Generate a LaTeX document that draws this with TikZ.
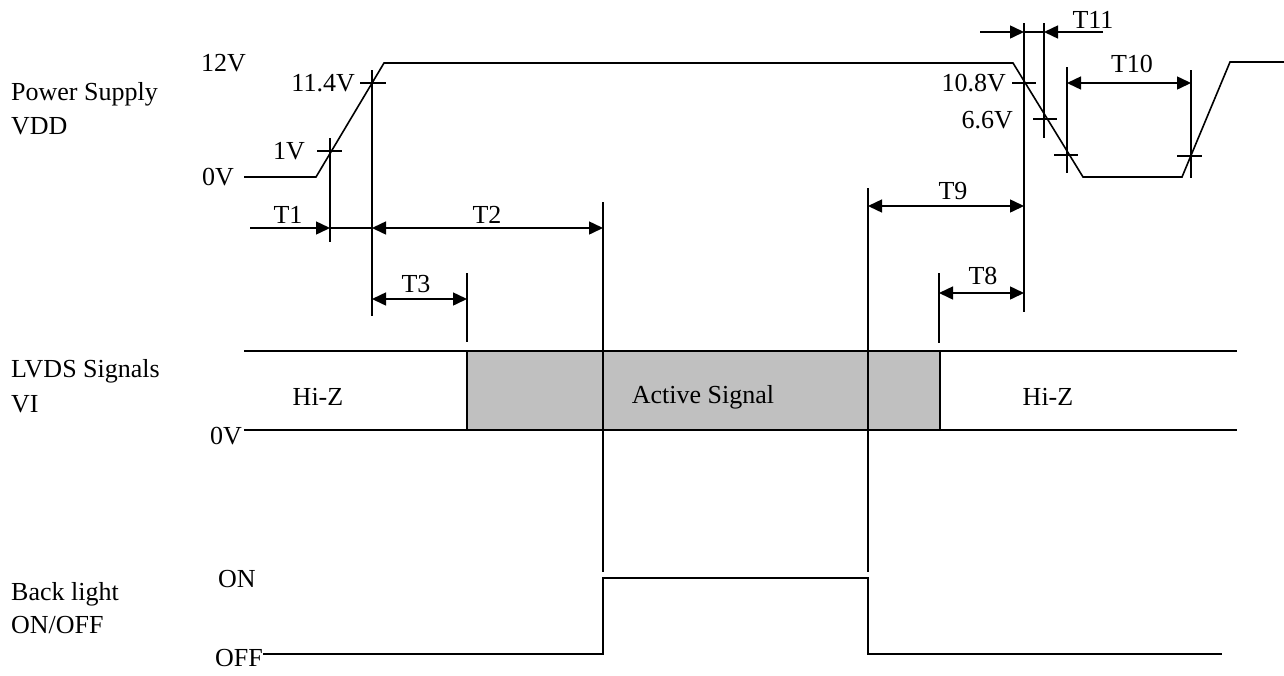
\documentclass[tikz,border=0pt]{standalone}
\usepackage{fontspec}
\setmainfont{Liberation Serif}
\usetikzlibrary{arrows.meta}
\definecolor{boxgray}{RGB}{192,192,192}
\begin{document}
\begin{tikzpicture}[x=1pt,y=-1pt,
  wire/.style={line width=1.6pt},
  guide/.style={line width=1.5pt},
  tip/.style={-{Triangle[length=14pt,width=13pt]}},
  dtip/.style={{Triangle[length=14pt,width=13pt]}-{Triangle[length=14pt,width=13pt]}},
  lbl/.style={inner sep=0pt, font=\fontsize{26}{31}\selectfont}]
\useasboundingbox (0,0) rectangle (1284,675);

% ---------- left labels ----------
\node[lbl, anchor=base west] (ps)  at (11,100) {Power Supply};
\node[lbl, anchor=base west] (vdd) at (11,134) {VDD};
\node[lbl, anchor=base west] (lv)  at (11,377) {LVDS Signals};
\node[lbl, anchor=base west] (vi)  at (11,412) {VI};
\node[lbl, anchor=base west] (bl)  at (11,600) {Back light};
\node[lbl, anchor=base west] (onoff) at (11,633) {ON/OFF};

% ---------- power supply ----------
\node[lbl, anchor=east] (v12)  at (246,63)  {12V};
\node[lbl, anchor=east] (v114) at (355,83)  {11.4V};
\node[lbl, anchor=east] (v1)   at (305,151) {1V};
\node[lbl, anchor=east] (v0)   at (234,177) {0V};
\node[lbl, anchor=east] (v108) at (1006,83) {10.8V};
\node[lbl, anchor=east] (v66)  at (1013,120) {6.6V};

\coordinate (pa) at (244,177);
\coordinate (pb) at (316,177);
\coordinate (pc) at (384,63);
\coordinate (pd) at (1013,63);
\coordinate (pe) at (1083,177);
\coordinate (pf) at (1182,177);
\coordinate (pg) at (1230,62);
\coordinate (ph) at (1284,62);
\draw[wire] (pa) -- (pb) -- (pc) -- (pd) -- (pe) -- (pf) -- (pg) -- (ph);

% ticks on ramps
\draw[guide] (317,151) -- (342,151);
\draw[guide] (360,83) -- (386,83);
\draw[guide] (1012,83) -- (1036,83);
\draw[guide] (1033,119) -- (1057,119);
\draw[guide] (1054,155) -- (1078,155);
\draw[guide] (1177,156) -- (1202,156);

% vertical guides
\coordinate (g1t) at (330,138);  \coordinate (g1b) at (330,242);
\coordinate (g2t) at (372,70);   \coordinate (g2b) at (372,316);
\coordinate (g3t) at (467,273);  \coordinate (g3b) at (467,342);
\coordinate (g4t) at (603,202);  \coordinate (g4b) at (603,572);
\coordinate (g5t) at (868,188);  \coordinate (g5b) at (868,572);
\coordinate (g6t) at (939,273);  \coordinate (g6b) at (939,343);
\coordinate (g7t) at (1024,23);  \coordinate (g7b) at (1024,312);
\coordinate (g8t) at (1044,23);  \coordinate (g8b) at (1044,138);
\coordinate (g9t) at (1067,67);  \coordinate (g9b) at (1067,173);
\coordinate (g10t) at (1191,70); \coordinate (g10b) at (1191,178);
\foreach \i in {1,...,10} \draw[guide] (g\i t) -- (g\i b);

% ---------- dimension arrows ----------
\coordinate (t1s) at (250,228);
\draw[guide, tip] (t1s) -- (g1t |- t1s);
\draw[guide] (g1t |- t1s) -- (g2t |- t1s);
\draw[guide, dtip] (g2t |- t1s) -- (g4t |- t1s);
\node[lbl] (T1) at (288,215) {T1};
\node[lbl] (T2) at (487,215) {T2};

\draw[guide, dtip] (372,299) -- (467,299);
\node[lbl] (T3) at (416,284) {T3};

\draw[guide, dtip] (868,206) -- (1024,206);
\node[lbl] (T9) at (953,191) {T9};
\draw[guide, dtip] (939,293) -- (1024,293);
\node[lbl] (T8) at (983,276) {T8};

\draw[guide, dtip] (1067,83) -- (1191,83);
\node[lbl] (T10) at (1132,64) {T10};

\coordinate (t11s) at (980,32);
\coordinate (t11e) at (1103,32);
\draw[guide, tip] (t11s) -- (g7t |- t11s);
\draw[guide] (g7t |- t11s) -- (g8t |- t11s);
\draw[guide, tip] (t11e) -- (g8t |- t11e);
\node[lbl] (T11) at (1093,20) {T11};

% ---------- LVDS ----------
\fill[boxgray] (467,351) rectangle (940,430);
\draw[wire] (467,351) -- (467,430);
\draw[wire] (940,351) -- (940,430);
\draw[wire] (244,351) -- (1237,351);
\draw[wire] (244,430) -- (1237,430);
\node[lbl, anchor=east] (lv0) at (242,436) {0V};
\node[lbl] (hz1) at (318,397) {Hi-Z};
\node[lbl] (act) at (703,397) {Active Signal};
\node[lbl] (hz2) at (1048,397) {Hi-Z};
\draw[guide] (603,351) -- (603,430);
\draw[guide] (868,351) -- (868,430);

% ---------- backlight ----------
\node[lbl, anchor=west] (on)  at (218,579) {ON};
\node[lbl, anchor=east] (off) at (263,658) {OFF};
\draw[wire] (off.east |- 0,654) -- (603,654) -- (603,578) -- (868,578) -- (868,654) -- (1222,654);

\end{tikzpicture}
\end{document}
